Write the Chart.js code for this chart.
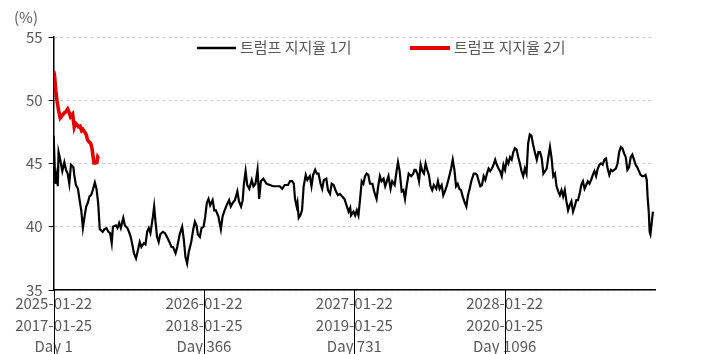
<!DOCTYPE html>
<html>
<head>
<meta charset="utf-8">
<script src="https://cdn.jsdelivr.net/npm/chart.js@4"></script>
<style>
  html, body { margin: 0; padding: 0; background: #fff; }
  #wrap { width: 709px; height: 354px; }
</style>
</head>
<body>
<div id="wrap"><canvas id="approvalChart" width="709" height="354"></canvas></div>
<script>
// Tick positions (day of term) and their three-line labels
const tickDays = [1, 366, 731, 1096];
const term2Dates = ['2025-01-22', '2026-01-22', '2027-01-22', '2028-01-22'];
const term1Dates = ['2017-01-25', '2018-01-25', '2019-01-25', '2020-01-25'];
const dayLabels = ['Day 1', 'Day 366', 'Day 731', 'Day 1096'];

const seriesNames = ['트럼프 지지율 1기', '트럼프 지지율 2기'];

// [day, approval %]
const term1 = [
  [1,47.2],[5,43.4],[9,44.2],[11,43.2],[13,45.9],[17,45.3],[22,44.4],[27,45.1],[31,44.5],[35,44.2],
  [39,43.4],[43,44.9],[49,44.7],[51,44.1],[55,43.3],[60,43.0],[64,42.1],[68,41.3],[72,39.9],[76,40.8],
  [80,41.6],[84,41.9],[88,42.4],[92,42.5],[96,42.9],[101,43.5],[105,43.0],[109,41.9],[113,39.8],[120,39.6],
  [124,39.8],[129,39.9],[134,39.6],[138,39.5],[142,38.7],[145,40.0],[152,40.1],[156,39.9],[160,40.3],[164,39.9],
  [170,40.7],[174,40.1],[180,39.9],[184,39.6],[188,39.2],[192,38.6],[196,37.9],[201,37.5],[206,38.2],[210,38.8],
  [214,38.4],[220,38.7],[224,38.6],[228,39.6],[232,39.9],[236,39.5],[242,40.8],[245,41.6],[248,40.5],[252,39.2],
  [256,38.8],[260,39.4],[266,39.6],[271,39.5],[276,39.2],[282,38.8],[287,38.4],[291,38.4],[297,37.9],[301,38.4],
  [307,39.4],[313,40.0],[317,39.0],[321,37.6],[325,37.1],[329,38.0],[335,38.8],[340,39.8],[344,40.4],[348,40.1],
  [351,39.4],[356,39.2],[360,39.9],[365,40.0],[369,40.8],[373,41.9],[377,42.2],[381,41.7],[387,42.1],[391,41.3],
  [395,41.3],[401,40.8],[407,39.8],[411,40.8],[415,41.2],[421,41.7],[427,42.1],[431,41.6],[436,41.9],[441,42.1],
  [447,42.8],[451,42.0],[456,41.6],[460,42.1],[463,43.4],[467,44.4],[471,43.3],[476,43.0],[482,43.7],[486,43.2],
  [491,43.4],[496,44.5],[500,42.2],[504,43.6],[510,43.8],[518,43.4],[526,43.3],[534,43.2],[542,43.2],[550,43.2],
  [556,43.0],[562,43.3],[570,43.3],[575,43.6],[580,43.6],[584,43.4],[587,42.2],[591,41.6],[593,41.9],[596,40.7],
  [600,40.9],[604,41.3],[608,43.2],[613,44.1],[617,43.7],[623,44.0],[627,43.2],[631,44.1],[636,44.5],[640,44.2],
  [644,44.2],[649,43.4],[653,43.0],[657,43.7],[663,43.8],[667,42.9],[672,42.6],[676,43.4],[681,43.3],[685,42.9],
  [691,42.5],[696,42.6],[701,42.4],[707,42.2],[713,41.6],[717,41.2],[721,41.5],[723,40.9],[729,41.2],[733,40.9],
  [737,41.3],[741,40.9],[745,42.2],[749,43.6],[753,43.4],[757,44.0],[761,44.2],[765,44.1],[769,43.4],[775,43.4],
  [779,42.8],[785,42.2],[789,43.2],[793,44.0],[797,43.6],[802,43.8],[806,43.2],[810,43.6],[814,44.0],[819,43.0],
  [823,43.6],[829,43.3],[834,44.5],[837,45.1],[841,44.4],[846,42.8],[850,42.9],[854,42.2],[858,43.2],[863,44.2],
  [869,44.0],[874,44.2],[877,44.5],[880,44.5],[884,44.2],[888,43.6],[892,44.9],[896,44.4],[900,44.2],[904,45.0],
  [908,44.5],[912,44.1],[916,43.2],[920,42.9],[924,43.3],[930,43.0],[934,43.6],[938,43.0],[943,43.3],[947,42.5],
  [952,42.9],[956,43.3],[960,43.8],[966,44.6],[970,45.3],[974,44.5],[978,43.2],[982,43.4],[986,43.0],[990,42.9],
  [994,42.4],[998,42.0],[1003,41.6],[1007,42.5],[1011,43.0],[1015,43.6],[1021,44.2],[1025,44.2],[1029,44.1],[1033,43.6],
  [1037,43.2],[1041,43.3],[1045,44.0],[1049,43.7],[1053,44.2],[1057,44.6],[1061,44.4],[1065,44.6],[1069,44.9],[1073,45.3],
  [1077,44.9],[1081,44.6],[1085,44.4],[1089,44.0],[1093,44.9],[1097,44.5],[1101,45.3],[1105,45.0],[1109,45.5],[1113,45.3],
  [1117,45.9],[1121,46.2],[1125,46.1],[1129,45.5],[1133,45.0],[1137,44.4],[1141,44.0],[1145,44.6],[1149,44.2],[1153,46.6],
  [1157,47.3],[1161,47.2],[1165,46.5],[1170,45.8],[1174,45.3],[1178,45.9],[1182,45.9],[1186,45.4],[1190,44.2],[1194,44.4],
  [1198,44.6],[1202,45.5],[1206,46.3],[1210,45.4],[1214,44.0],[1218,44.2],[1222,43.2],[1226,42.8],[1230,42.5],[1234,42.9],
  [1238,42.4],[1242,42.9],[1246,42.0],[1250,41.3],[1254,41.7],[1258,42.0],[1262,41.2],[1266,41.6],[1270,42.1],[1274,42.1],
  [1278,42.6],[1282,43.3],[1286,43.6],[1290,43.0],[1294,43.3],[1298,43.6],[1302,43.4],[1306,43.7],[1310,44.1],[1314,44.4],
  [1318,44.0],[1322,44.6],[1326,44.9],[1330,45.0],[1334,44.9],[1338,45.3],[1342,45.4],[1346,44.6],[1350,44.1],[1354,44.5],
  [1358,44.4],[1362,44.5],[1366,44.6],[1370,45.0],[1374,45.9],[1378,46.3],[1382,46.2],[1386,45.8],[1390,45.5],[1394,44.5],
  [1398,44.7],[1402,45.5],[1406,45.7],[1410,45.3],[1414,44.9],[1418,44.7],[1422,44.4],[1426,44.1],[1430,44.0],[1434,44.0],
  [1438,44.1],[1441,43.7],[1443,42.4],[1446,41.1],[1448,39.6],[1450,39.4],[1453,40.3],[1456,41.2]
];

const term2 = [
  [1,52.3],[3,52.0],[6,50.8],[9,50.0],[13,49.2],[17,48.6],[22,48.8],[27,49.0],[31,49.1],[35,49.3],
  [39,49.0],[42,48.7],[47,48.9],[51,47.9],[54,48.2],[57,48.1],[61,47.9],[65,47.95],[69,47.6],[72,47.7],
  [76,47.5],[80,47.3],[83,46.9],[87,46.7],[91,46.6],[94,46.2],[97,45.5],[99,45.05],[103,45.05],[106,45.1],
  [108,45.5],[110,45.4]
];

const yTicks = [35, 40, 45, 50, 55];

const textColor = '#595959';
const fontFamily = "'Noto Sans CJK KR', 'Noto Sans', sans-serif";

// long tick marks that run down through the date labels
const longTicks = {
  id: 'longTicks',
  afterDraw(chart) {
    const ctx = chart.ctx;
    const xScale = chart.scales.x;
    ctx.save();
    ctx.strokeStyle = '#000';
    ctx.lineWidth = 1;
    tickDays.forEach(d => {
      const x = Math.round(xScale.getPixelForValue(d)) + 0.5;
      ctx.beginPath();
      ctx.moveTo(x, chart.chartArea.bottom);
      ctx.lineTo(x, chart.height);
      ctx.stroke();
    });
    ctx.restore();
  }
};

// unit label and in-plot legend
const extras = {
  id: 'extras',
  afterDraw(chart) {
    const ctx = chart.ctx;
    ctx.save();
    ctx.font = '15px ' + fontFamily;
    ctx.fillStyle = textColor;
    ctx.textBaseline = 'middle';
    ctx.fillText('(%)', 14, 17);

    const items = [
      { x: 197, w: 39, ds: chart.data.datasets[0] },
      { x: 410, w: 40, ds: chart.data.datasets[1] }
    ];
    items.forEach(it => {
      ctx.strokeStyle = it.ds.borderColor;
      ctx.lineWidth = it.ds.borderWidth + 0.3;
      ctx.beginPath();
      ctx.moveTo(it.x, 48);
      ctx.lineTo(it.x + it.w, 48);
      ctx.stroke();
      ctx.fillStyle = textColor;
      ctx.fillText(it.ds.label, it.x + it.w + 4, 47);
    });
    ctx.restore();
  }
};

new Chart(document.getElementById('approvalChart'), {
  type: 'line',
  data: {
    datasets: [
      {
        label: seriesNames[0],
        data: term1.map(p => ({ x: p[0], y: p[1] })),
        borderColor: '#000000',
        borderWidth: 2.2,
        pointRadius: 0,
        tension: 0,
        order: 2
      },
      {
        label: seriesNames[1],
        data: term2.map(p => ({ x: p[0], y: p[1] })),
        borderColor: '#e60000',
        borderWidth: 3.6,
        pointRadius: 0,
        tension: 0,
        order: 1
      }
    ]
  },
  options: {
    responsive: false,
    animation: false,
    layout: { padding: { left: 20, right: 54, top: 37, bottom: 0 } },
    plugins: {
      legend: { display: false },
      tooltip: { enabled: false }
    },
    scales: {
      x: {
        type: 'linear',
        min: 1,
        max: 1461,
        afterBuildTicks: scale => { scale.ticks = tickDays.map(v => ({ value: v })); },
        afterFit: scale => { scale.height = 64; },
        grid: { display: false },
        border: { display: true, color: '#000', width: 1.5 },
        ticks: {
          autoSkip: false,
          maxRotation: 0,
          padding: -5,
          color: textColor,
          font: { family: fontFamily, size: 15, lineHeight: 1.43 },
          callback: (v, i) => [term2Dates[i], term1Dates[i], dayLabels[i]]
        }
      },
      y: {
        min: 35,
        max: 55,
        afterBuildTicks: scale => { scale.ticks = yTicks.map(v => ({ value: v })); },
        grid: { color: '#d0d0d0', lineWidth: 1, tickColor: '#000', tickLength: 5 },
        border: { display: true, color: '#000', width: 1.5, dash: [3, 3] },
        ticks: {
          padding: 6,
          color: textColor,
          font: { family: fontFamily, size: 15 }
        }
      }
    }
  },
  plugins: [longTicks, extras]
});
</script>
</body>
</html>
